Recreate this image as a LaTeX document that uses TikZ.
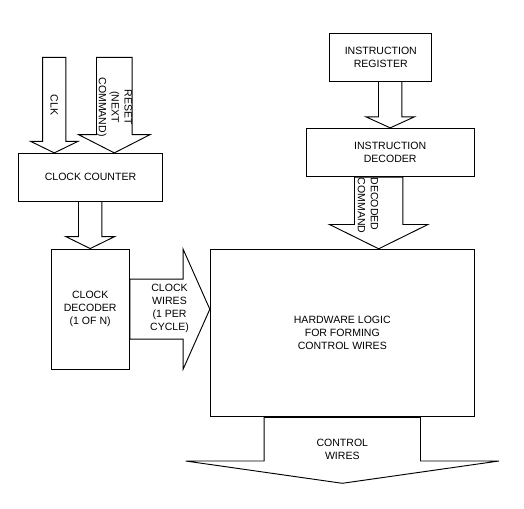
\documentclass[tikz,border=0pt]{standalone}
\usepackage{fontspec}
\setmainfont{Liberation Sans}
\usetikzlibrary{calc}

\newcommand{\downblock}[5]{%
	\draw[blockarrow] ($(#1)+(-#3,0)$) -- ($(#2)+(-#3,-#5)$) -- ($(#2)+(-#4,-#5)$) -- (#2)
		-- ($(#2)+(#4,-#5)$) -- ($(#2)+(#3,-#5)$) -- ($(#1)+(#3,0)$) -- cycle;}
\newcommand{\rightblock}[5]{%
	\draw[blockarrow] ($(#1)+(0,-#3)$) -- ($(#2)+(-#5,-#3)$) -- ($(#2)+(-#5,-#4)$) -- (#2)
		-- ($(#2)+(-#5,#4)$) -- ($(#2)+(-#5,#3)$) -- ($(#1)+(0,#3)$) -- cycle;}

\begin{document}
\begin{tikzpicture}[x=0.03cm, y=-0.03cm,
		block/.style={draw, line width=0.8pt, inner sep=0pt, align=center, font=\fontsize{9}{11}\selectfont},
		blockarrow/.style={draw, line width=0.8pt},
		lbl/.style={inner sep=0pt, align=center, font=\fontsize{9}{11}\selectfont}]
		\useasboundingbox (0,0) rectangle (524,509);

		\node[block, minimum width=4.33cm, minimum height=1.43cm] (cnt) at (90.5,177.2) {CLOCK COUNTER};
		\node[block, minimum width=2.35cm, minimum height=3.61cm] (dec) at (90.2,309.2) {CLOCK\\DECODER\\(1 OF N)};
		\node[block, minimum width=3.05cm, minimum height=1.43cm] (ir) at (380.8,57.2) {INSTRUCTION\\REGISTER};
		\node[block, minimum width=5.05cm, minimum height=1.45cm] (id) at (390.2,152.5) {INSTRUCTION\\DECODER};
		\node[block, minimum width=7.92cm, minimum height=5.03cm] (hw) at (342.3,333.1) {HARDWARE LOGIC\\FOR FORMING\\CONTROL WIRES};

		\coordinate (clkin) at (54.3,57.3);
		\coordinate (rstin) at (114.3,57.3);
		\coordinate (clktip) at (clkin |- cnt.north);
		\coordinate (rsttip) at (rstin |- cnt.north);
		\coordinate (cntout) at (dec.north |- cnt.south);
		\coordinate (wiretip) at (dec.east -| hw.west);
		\coordinate (irout) at (id.north |- ir.south);
		\coordinate (cmdtop) at ($(id.south)+(-11.5,0)$);
		\coordinate (cmdtip) at (cmdtop |- hw.north);
		\coordinate (out) at (342.3,483.3);

		\downblock{clkin}{clktip}{11.65}{23.8}{11.6}
		\downblock{rstin}{rsttip}{17.8}{35.8}{18.3}
		\downblock{cntout}{dec.north}{11.7}{24.5}{12}
		\rightblock{dec.east}{wiretip}{30}{60}{26.7}
		\downblock{irout}{id.north}{11.7}{24.2}{11}
		\downblock{cmdtop}{cmdtip}{24.2}{49.2}{24.3}
		\downblock{hw.south}{out}{78.2}{156.7}{22.3}

		\node[lbl, rotate=-90] (clklbl) at (54.3,105) {CLK};
		\node[lbl, rotate=-90] (rstlbl) at (114.3,107) {RESET\\(NEXT\\COMMAND)};
		\node[lbl, rotate=-90, anchor=west, align=left] (cmdlbl) at (368,177.5) {DECODED\\COMMAND};
		\node[lbl] (wirelbl) at (169.5,308.5) {CLOCK\\WIRES\\(1 PER\\CYCLE)};
		\node[lbl] (ctrllbl) at (342.3,449.3) {CONTROL\\WIRES};
\end{tikzpicture}
\end{document}
